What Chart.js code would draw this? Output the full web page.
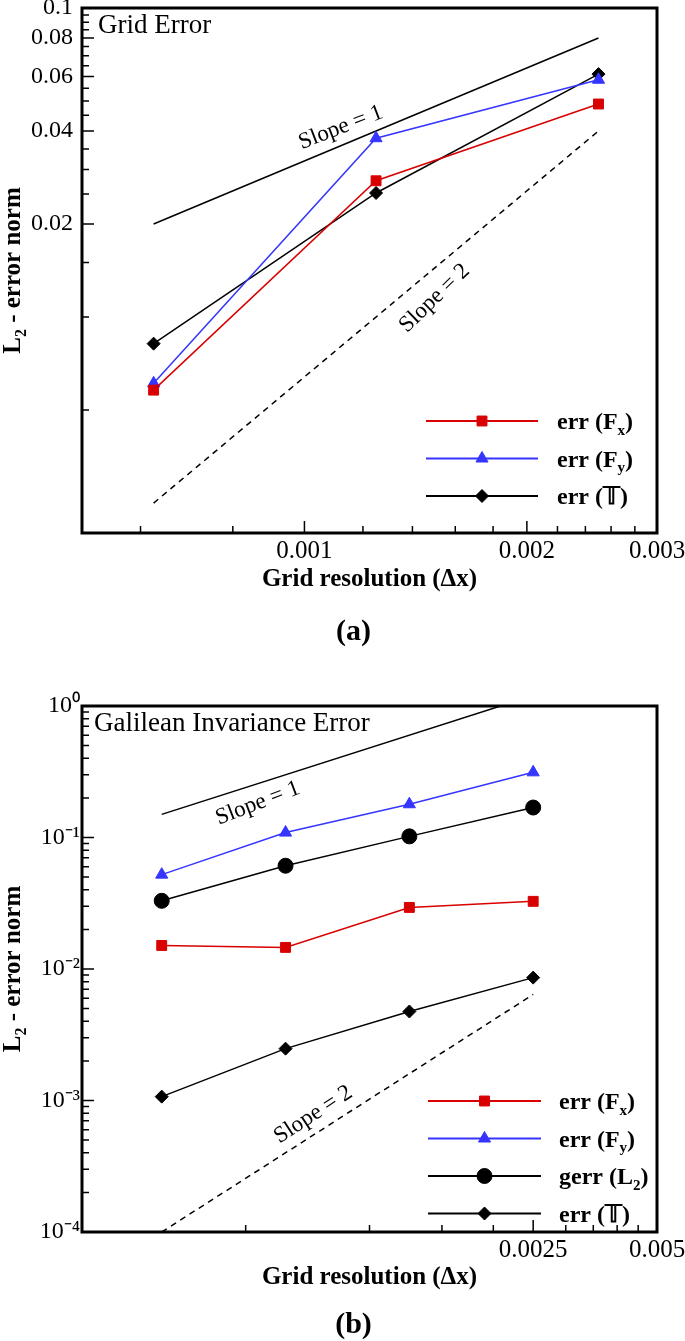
<!DOCTYPE html>
<html>
<head>
<meta charset="utf-8">
<script src="https://cdn.jsdelivr.net/npm/chart.js@4.4.0/dist/chart.umd.min.js"></script>
<style>
    html, body { margin: 0; padding: 0; background: #fff; }
    body { width: 685px; height: 1341px; position: relative; overflow: hidden; }
    #wrapA { position: absolute; left: 0; top: 0; }
    #wrapB { position: absolute; left: 0; top: 680px; }
</style>
</head>
<body>
<div id="wrapA"><canvas id="chartA" width="685" height="680"></canvas></div>
<div id="wrapB"><canvas id="chartB" width="685" height="661"></canvas></div>
<script>
// panel (a) - grid error
const dxA = [0.000625, 0.00125, 0.0025];
const errFxA = [0.0058, 0.0276, 0.0489];
const errFyA = [0.0061, 0.0379, 0.0586];
const errTA = [0.0082, 0.0252, 0.0611];
const slopeXA = [0.000625, 0.0025];
const slope1YA = [0.02, 0.08];
const slope2YA = [0.0025, 0.04];
const xTicksA = [0.0006, 0.0008, 0.001, 0.0012, 0.0014, 0.0016, 0.0018, 0.002, 0.0022, 0.0024, 0.0026, 0.0028, 0.003];
const xLabelsA = [0.001, 0.002, 0.003];
const yTicksA = [0.005, 0.01, 0.015, 0.02, 0.025, 0.03, 0.035, 0.04, 0.045, 0.05, 0.055, 0.06, 0.065, 0.07, 0.075, 0.08, 0.085, 0.09, 0.095, 0.1];
const yLabelsA = [0.02, 0.04, 0.06, 0.08, 0.1];

// panel (b) - galilean invariance error
const dxB = [0.0003125, 0.000625, 0.00125, 0.0025];
const errFxB = [0.0151, 0.0146, 0.0294, 0.0327];
const errFyB = [0.0522, 0.109, 0.179, 0.313];
const gerrB = [0.033, 0.061, 0.102, 0.169];
const errTB = [0.00107, 0.00248, 0.00475, 0.0086];
const slopeXB = [0.0003125, 0.0025];
const slope1YB = [0.15, 1.2];
const slope2YB = [0.0001, 0.0064];
const xTicksB = [0.0005, 0.001, 0.0015, 0.002, 0.0025, 0.003, 0.0035, 0.004, 0.0045, 0.005];
const xLabelsB = [0.0025, 0.005];
const yTicksB = [
    1e-4, 2e-4, 3e-4, 4e-4, 5e-4, 6e-4, 7e-4, 8e-4, 9e-4,
    1e-3, 2e-3, 3e-3, 4e-3, 5e-3, 6e-3, 7e-3, 8e-3, 9e-3,
    1e-2, 2e-2, 3e-2, 4e-2, 5e-2, 6e-2, 7e-2, 8e-2, 9e-2,
    1e-1, 2e-1, 3e-1, 4e-1, 5e-1, 6e-1, 7e-1, 8e-1, 9e-1, 1
];
const yLabelValsB = [1e-4, 1e-3, 1e-2, 1e-1, 1];
const yLabelTextB = ["10⁻⁴", "10⁻³", "10⁻²", "10⁻¹", "10⁰"];

const RED = "#d80000";
const BLUE = "#3535ff";
const BLACK = "#000000";
const serif = '"Liberation Serif", "Times New Roman", serif';

Chart.defaults.font.family = serif;
Chart.defaults.color = "#000";

function pts(xs, ys) {
    return xs.map((x, i) => ({ x: x, y: ys[i] }));
}

function series(label, xs, ys, color, style, radius) {
    return {
        label: label,
        data: pts(xs, ys),
        borderColor: color,
        backgroundColor: color,
        borderWidth: 1.5,
        pointStyle: style,
        pointRadius: radius,
        pointHoverRadius: radius,
        pointBorderWidth: 1,
        pointBackgroundColor: color,
        pointBorderColor: color,
        inLegend: true
    };
}

function guide(xs, ys, dashed) {
    return {
        label: "",
        data: pts(xs, ys),
        borderColor: BLACK,
        borderWidth: 1.5,
        borderDash: dashed ? [6, 5] : [],
        pointRadius: 0,
        inLegend: false
    };
}

// text with one-character subscripts written as _x
function drawRich(ctx, text, x, y, size, weight, align) {
    const parts = [];
    const re = /_(.)/g;
    let last = 0, m;
    while ((m = re.exec(text))) {
        if (m.index > last) parts.push({ t: text.slice(last, m.index), sub: false });
        parts.push({ t: m[1], sub: true });
        last = re.lastIndex;
    }
    if (last < text.length) parts.push({ t: text.slice(last), sub: false });
    const fMain = weight + " " + size + "px " + serif;
    const fSub = weight + " " + Math.round(size * 0.62) + "px " + serif;
    let w = 0;
    parts.forEach(p => {
        ctx.font = p.sub ? fSub : fMain;
        p.w = ctx.measureText(p.t).width;
        w += p.w;
    });
    let cx = align === "center" ? x - w / 2 : x;
    ctx.textAlign = "left";
    ctx.textBaseline = "alphabetic";
    parts.forEach(p => {
        ctx.font = p.sub ? fSub : fMain;
        ctx.fillText(p.t, cx, p.sub ? y + size * 0.24 : y);
        cx += p.w;
    });
}

function drawMarker(ctx, style, x, y, r, color) {
    ctx.save();
    ctx.fillStyle = color;
    ctx.strokeStyle = color;
    ctx.lineWidth = 1;
    ctx.setLineDash([]);
    ctx.beginPath();
    if (style === "rect") {
        const s = r * Math.SQRT1_2;
        ctx.rect(x - s, y - s, 2 * s, 2 * s);
    } else if (style === "rectRot") {
        ctx.moveTo(x, y - r);
        ctx.lineTo(x + r, y);
        ctx.lineTo(x, y + r);
        ctx.lineTo(x - r, y);
        ctx.closePath();
    } else if (style === "triangle") {
        let a = 0;
        ctx.moveTo(x + Math.sin(a) * r, y - Math.cos(a) * r);
        a += Math.PI * 2 / 3;
        ctx.lineTo(x + Math.sin(a) * r, y - Math.cos(a) * r);
        a += Math.PI * 2 / 3;
        ctx.lineTo(x + Math.sin(a) * r, y - Math.cos(a) * r);
        ctx.closePath();
    } else {
        ctx.arc(x, y, r, 0, Math.PI * 2);
    }
    ctx.fill();
    ctx.stroke();
    ctx.restore();
}

function makeDecor(cfg) {
    return {
        id: "panelDecor",
        afterDatasetsDraw(chart) {
            const ctx = chart.ctx;
            const a = chart.chartArea;
            const xs = chart.scales.x;
            const ys = chart.scales.y;
            ctx.save();
            ctx.strokeStyle = "#000";
            ctx.fillStyle = "#000";

            // inward tick marks
            ctx.lineWidth = 1.5;
            ctx.beginPath();
            xs.ticks.forEach(t => {
                const p = xs.getPixelForValue(t.value);
                const len = cfg.xMajor.includes(t.value) ? 12 : 7;
                ctx.moveTo(p, a.bottom);
                ctx.lineTo(p, a.bottom - len);
            });
            ys.ticks.forEach(t => {
                const p = ys.getPixelForValue(t.value);
                const len = cfg.yMajor.includes(t.value) ? 12 : 7;
                ctx.moveTo(a.left, p);
                ctx.lineTo(a.left + len, p);
            });
            ctx.stroke();

            // frame
            ctx.lineWidth = 3;
            ctx.strokeRect(a.left, a.top, a.right - a.left, a.bottom - a.top);

            // corner note
            ctx.font = "27px " + serif;
            ctx.textAlign = "left";
            ctx.textBaseline = "alphabetic";
            ctx.fillText(cfg.note, a.left + cfg.noteDx, a.top + cfg.noteDy);

            // slope labels
            cfg.slopes.forEach(s => {
                ctx.save();
                ctx.translate(xs.getPixelForValue(s.x), ys.getPixelForValue(s.y));
                ctx.rotate(s.rot * Math.PI / 180);
                ctx.font = "23px " + serif;
                ctx.textAlign = "center";
                ctx.textBaseline = "middle";
                ctx.fillText(s.text, 0, 0);
                ctx.restore();
            });

            // legend
            const lg = cfg.legend;
            chart.data.datasets.filter(d => d.inLegend).forEach((d, i) => {
                const y = a.top + lg.y0 + i * lg.dy;
                ctx.strokeStyle = d.borderColor;
                ctx.lineWidth = 2;
                ctx.beginPath();
                ctx.moveTo(lg.x1, y);
                ctx.lineTo(lg.x2, y);
                ctx.stroke();
                drawMarker(ctx, d.pointStyle, (lg.x1 + lg.x2) / 2, y, d.pointRadius, d.borderColor);
                ctx.fillStyle = "#000";
                drawRich(ctx, d.label, lg.tx, y + 8, 24, "bold", "left");
            });

            // y axis title
            ctx.save();
            ctx.translate(cfg.yTitleX, (a.top + a.bottom) / 2);
            ctx.rotate(-Math.PI / 2);
            drawRich(ctx, "L_2 - error norm", 0, 8, 25, "bold", "center");
            ctx.restore();

            // panel label
            ctx.font = "bold 30px " + serif;
            ctx.textAlign = "center";
            ctx.textBaseline = "middle";
            ctx.fillText(cfg.panel, (a.left + a.right) / 2 + cfg.panelDx, cfg.panelY);
            ctx.restore();
        }
    };
}

function makeChart(id, cfg) {
    new Chart(document.getElementById(id), {
        type: "line",
        data: { datasets: cfg.datasets },
        plugins: [makeDecor(cfg)],
        options: {
            responsive: false,
            animation: false,
            devicePixelRatio: 1,
            events: [],
            layout: { padding: cfg.padding },
            plugins: { legend: { display: false }, tooltip: { enabled: false } },
            scales: {
                x: {
                    type: "logarithmic",
                    min: cfg.xMin,
                    max: cfg.xMax,
                    grid: { display: false, drawTicks: false },
                    border: { display: false },
                    ticks: {
                        autoSkip: false,
                        maxRotation: 0,
                        padding: cfg.xPad,
                        font: { size: 25 },
                        callback: v => cfg.xLabels.includes(v) ? String(v) : ""
                    },
                    afterBuildTicks: s => { s.ticks = cfg.xTicks.map(v => ({ value: v })); },
                    afterFit: s => { s.height = cfg.xHeight; s.paddingLeft = 0; s.paddingRight = 0; },
                    title: {
                        display: true,
                        text: "Grid resolution (Δx)",
                        font: { size: 25, weight: "bold" },
                        padding: { top: 0, bottom: cfg.titlePad }
                    }
                },
                y: {
                    type: "logarithmic",
                    min: cfg.yMin,
                    max: cfg.yMax,
                    grid: { display: false, drawTicks: false },
                    border: { display: false },
                    ticks: {
                        autoSkip: false,
                        padding: cfg.yPad,
                        font: { size: 24 },
                        callback: cfg.yLabelFn
                    },
                    afterBuildTicks: s => { s.ticks = cfg.yTicks.map(v => ({ value: v })); },
                    afterFit: s => { s.width = 82; s.paddingTop = 0; s.paddingBottom = 0; }
                }
            }
        }
    });
}

makeChart("chartA", {
    datasets: [
        series("err (F_x)", dxA, errFxA, RED, "rect", 7),
        series("err (F_y)", dxA, errFyA, BLUE, "triangle", 7),
        series("err (\u{1D54B})", dxA, errTA, BLACK, "rectRot", 6.5),
        guide(slopeXA, slope1YA, false),
        guide(slopeXA, slope2YA, true)
    ],
    padding: { left: 0, top: 8, right: 28, bottom: 0 },
    xMin: 0.0005, xMax: 0.003, yMin: 0.002, yMax: 0.1,
    xTicks: xTicksA, xLabels: xLabelsA, xMajor: xLabelsA,
    yTicks: yTicksA, yMajor: yLabelsA,
    yLabelFn: v => yLabelsA.includes(v) ? String(v) : "",
    xPad: 3, yPad: 9, xHeight: 147, titlePad: 85,
    note: "Grid Error", noteDx: 16, noteDy: 25,
    slopes: [
        { text: "Slope = 1", x: 0.00112, y: 0.041, rot: -21 },
        { text: "Slope = 2", x: 0.0015, y: 0.0115, rot: -44 }
    ],
    legend: { x1: 426, x2: 538, tx: 557, y0: 413, dy: 37.5 },
    yTitleX: 12, panel: "(a)", panelDx: -16, panelY: 632
});

makeChart("chartB", {
    datasets: [
        series("err (F_x)", dxB, errFxB, RED, "rect", 7),
        series("err (F_y)", dxB, errFyB, BLUE, "triangle", 7),
        series("gerr (L_2)", dxB, gerrB, BLACK, "circle", 7.5),
        series("err (\u{1D54B})", dxB, errTB, BLACK, "rectRot", 6.5),
        guide(slopeXB, slope1YB, false),
        guide(slopeXB, slope2YB, true)
    ],
    padding: { left: 0, top: 26, right: 28, bottom: 0 },
    xMin: 0.0002, xMax: 0.005, yMin: 0.0001, yMax: 1,
    xTicks: xTicksB, xLabels: xLabelsB, xMajor: xLabelsB,
    yTicks: yTicksB, yMajor: yLabelValsB,
    yLabelFn: v => {
        const i = yLabelValsB.indexOf(v);
        return i >= 0 ? yLabelTextB[i] : "";
    },
    xPad: 3, yPad: 2, xHeight: 109, titlePad: 48,
    note: "Galilean Invariance Error", noteDx: 12, noteDy: 25,
    slopes: [
        { text: "Slope = 1", x: 0.000535, y: 0.182, rot: -21 },
        { text: "Slope = 2", x: 0.00073, y: 0.00078, rot: -33 }
    ],
    legend: { x1: 428, x2: 541, tx: 559, y0: 395, dy: 37.5 },
    yTitleX: 12, panel: "(b)", panelDx: -16, panelY: 645
});
</script>
</body>
</html>
